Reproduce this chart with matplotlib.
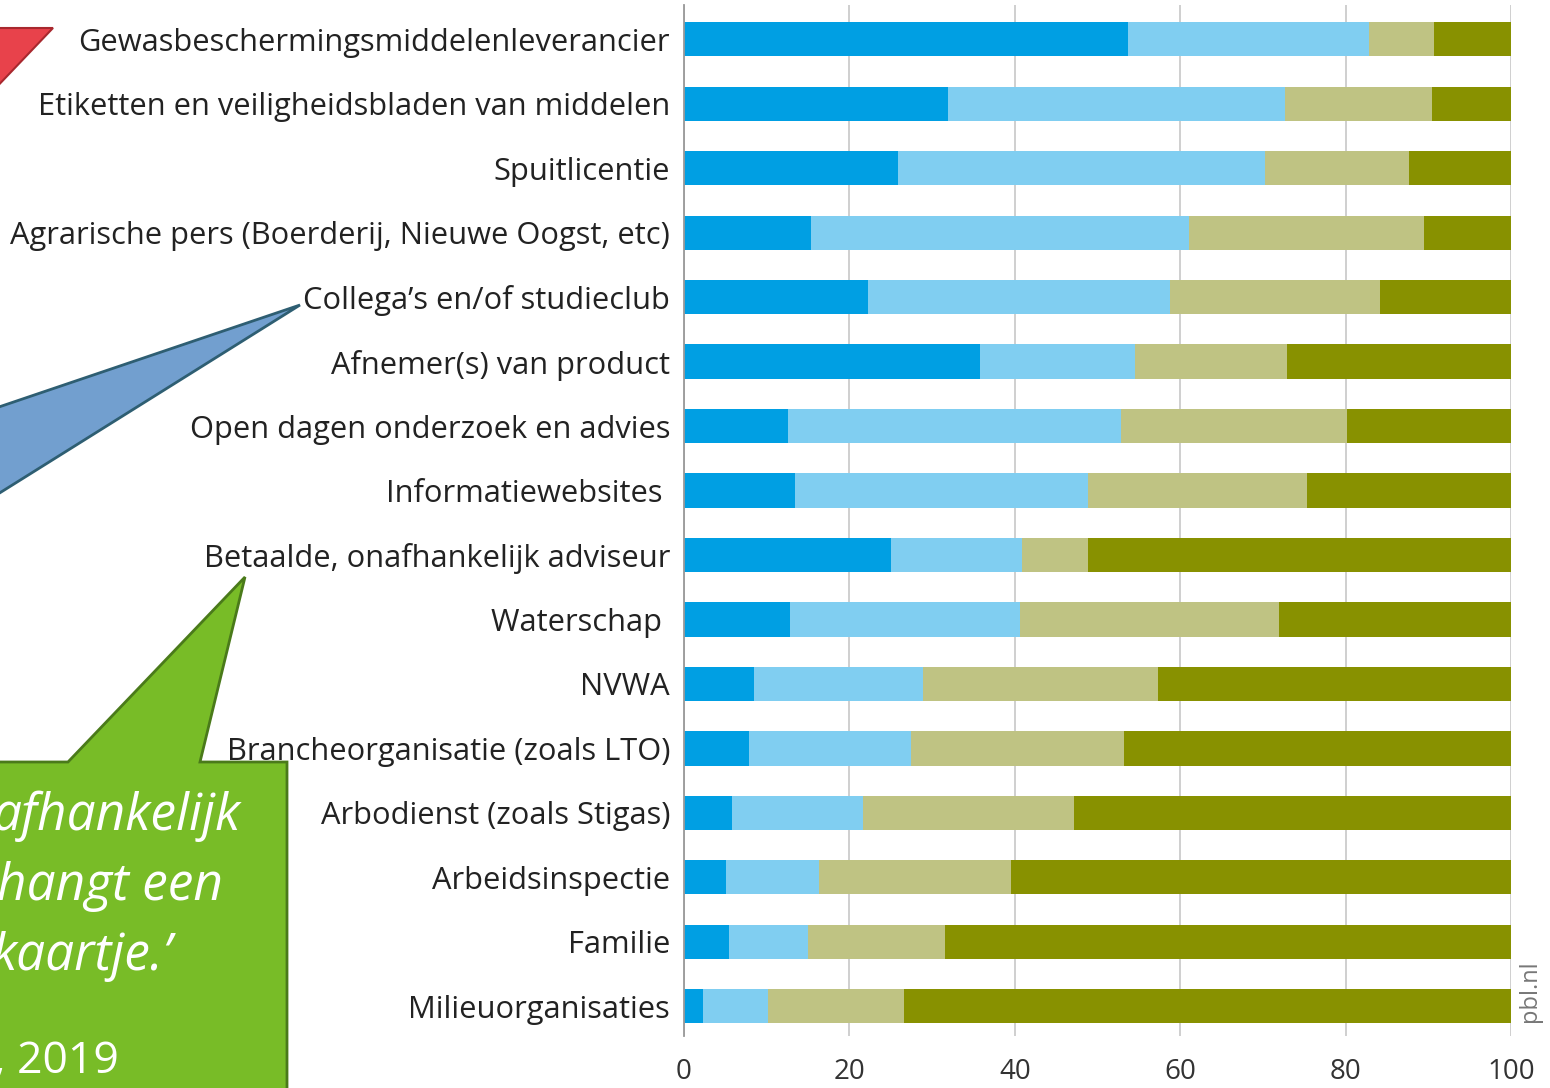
import matplotlib
matplotlib.use("Agg")
import matplotlib.pyplot as plt
from matplotlib.patches import Polygon

categories = [
    "Gewasbeschermingsmiddelenleverancier",
    "Etiketten en veiligheidsbladen van middelen",
    "Spuitlicentie",
    "Agrarische pers (Boerderij, Nieuwe Oogst, etc)",
    "Collega’s en/of studieclub",
    "Afnemer(s) van product",
    "Open dagen onderzoek en advies",
    "Informatiewebsites ",
    "Betaalde, onafhankelijk adviseur",
    "Waterschap ",
    "NVWA",
    "Brancheorganisatie (zoals LTO)",
    "Arbodienst (zoals Stigas)",
    "Arbeidsinspectie",
    "Familie",
    "Milieuorganisaties",
]
seg1 = [53.7, 31.9, 25.9, 15.4, 22.3, 35.8, 12.6, 13.4, 25.0, 12.8, 8.5, 7.8, 5.8, 5.1, 5.4, 2.3]
seg2 = [29.1, 40.8, 44.4, 45.7, 36.5, 18.7, 40.2, 35.5, 15.9, 27.8, 20.4, 19.6, 15.8, 11.2, 9.6, 7.9]
seg3 = [7.9, 17.8, 17.4, 28.4, 25.3, 18.4, 27.4, 26.4, 7.9, 31.3, 28.4, 25.8, 25.5, 23.2, 16.6, 16.4]
seg4 = [9.3, 9.5, 12.3, 10.5, 15.9, 27.1, 19.8, 24.7, 51.2, 28.1, 42.7, 46.8, 52.9, 60.5, 68.4, 73.4]
xticks = [0, 20, 40, 60, 80, 100]

colors = ["#009FE3", "#80CEF1", "#BFC383", "#889100"]

W, H = 1550, 1088
fig = plt.figure(figsize=(W / 100, H / 100), dpi=100)
fig.patch.set_facecolor("white")

# overlay (callout shapes) in pixel coordinates
ov = fig.add_axes([0, 0, 1, 1], zorder=0)
ov.set_xlim(0, W)
ov.set_ylim(H, 0)
ov.axis("off")
red = Polygon([(-10, 28), (53, 28), (-10, 94)], closed=True,
              facecolor="#E8424B", edgecolor="#A8282E", lw=1.5)
blue = Polygon([(300, 305), (-10, 410), (-10, 499)], closed=True,
               facecolor="#729FCF", edgecolor="#2E5E72", lw=2)
green = Polygon([(-10, 762), (68, 762), (245, 577), (200, 762), (287, 762),
                 (287, 1100), (-10, 1100)], closed=True,
                facecolor="#78BC27", edgecolor="#4A7A1A", lw=2)
for p in (red, blue, green):
    ov.add_patch(p)

qfont = dict(family="Open Sans", style="italic", color="white", fontsize=37)
ov.text(241, 830, "afhankelijk", ha="right", va="baseline", **qfont)
ov.text(223, 900, "hangt een", ha="right", va="baseline", **qfont)
ov.text(172, 970, "kaartje.’", ha="right", va="baseline", **qfont)
ov.text(119, 1073, ", 2019", ha="right", va="baseline", family="Open Sans",
        color="white", fontsize=32)

# main chart
ax = fig.add_axes([684 / W, 1 - 1036 / H, (1511 - 684) / W, (1036 - 5) / H], zorder=1)
ax.patch.set_alpha(0)
ypos = list(range(len(categories)))
left = [0.0] * len(categories)
for vals, c in zip([seg1, seg2, seg3, seg4], colors):
    ax.barh(ypos, vals, left=left, height=0.53, color=c, linewidth=0)
    left = [l + v for l, v in zip(left, vals)]

ax.set_xlim(0, 100)
ax.set_ylim(15.46, -0.53)
ax.set_yticks(ypos)
ax.set_yticklabels(categories, family="Open Sans", fontsize=22.2, color="#222222")
ax.set_xticks(xticks)
ax.set_xticklabels([str(t) for t in xticks], family="Open Sans", fontsize=20, color="#333333")
ax.tick_params(axis="y", length=0, pad=10)
ax.tick_params(axis="x", length=0, pad=16)
ax.xaxis.grid(True, color="#cccccc", lw=1.3)
ax.set_axisbelow(True)
for s in ("top", "right", "bottom"):
    ax.spines[s].set_visible(False)
ax.spines["left"].set_color("#999999")
ax.spines["left"].set_linewidth(1.3)

fig.text(1530 / W, 1 - 991 / H, "pbl.nl", rotation=90, ha="center", va="center",
         family="Open Sans", fontsize=17, color="#777777")

fig.savefig("out.png", dpi=100, facecolor="white")
